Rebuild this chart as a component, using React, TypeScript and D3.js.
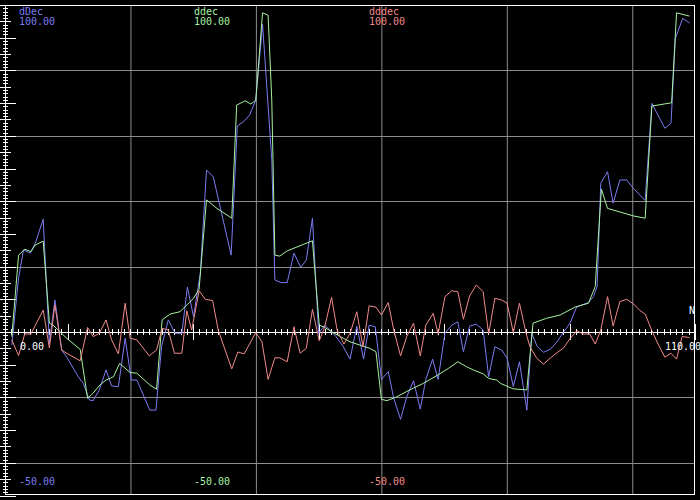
import React from 'react';
import * as d3 from 'd3';

// series names and the range labels printed for each of them
const seriesNames = ['dDec', 'ddec', 'dddec'];
const seriesColors = ['#7c7cf2', '#a6f2a0', '#f28a8a'];
const topLabels = ['100.00', '100.00', '100.00'];
const bottomLabels = ['-50.00', '-50.00', '-50.00'];
const xLabels = ['0.00', '110.00'];

// [x, value]
const dDec: [number, number][] = [
  [0, -4.0], [1.1, 16.5], [1.9, 25.1], [3.0, 24.1], [3.8, 27.1], [5.1, 34.5], [6.1, -3.5], [7.0, 9.8],
  [8.1, -5.5], [8.9, -7.6], [10.8, -13.7], [11.6, -15.7], [12.6, -20.8], [13.2, -21.0], [14.2, -17.7],
  [15.3, -11.6], [16.2, -16.5], [17.3, -16.7], [18.4, -1.9], [19.4, -14.7], [20.3, -14.7], [22.4, -23.9],
  [23.4, -23.9], [24.3, -4.5], [25.4, 3.7], [26.5, -0.4], [27.6, -0.4], [28.5, 13.7], [29.5, 4.7],
  [30.6, 18.0], [31.6, 49.5], [32.7, 47.5], [35.6, 23.5], [36.6, 63.0], [37.6, 64.3], [38.6, 66.3],
  [39.6, 70.9], [40.7, 94.1], [42.2, 52.6], [42.7, 15.9], [43.7, 15.1], [44.7, 15.1], [45.8, 24.1],
  [46.9, 19.8], [47.8, 22.0], [48.8, 34.8], [49.8, -0.4], [50.8, 2.1], [51.9, 0.1], [52.6, -1.4],
  [53.8, -4.5], [54.9, -8.3], [56.0, 1.8], [57.1, -8.3], [58.0, 2.1], [59.0, 1.6], [60.0, -14.5],
  [61.1, -12.1], [62.0, -20.3], [63.1, -26.7], [64.1, -19.8], [65.2, -14.9], [66.3, -23.6], [67.2, -14.5],
  [68.3, -8.3], [69.2, -14.5], [70.3, -0.4], [71.4, 2.1], [72.4, 3.1], [73.3, -6.0], [74.3, 1.8],
  [75.4, 2.4], [76.5, 0.6], [77.4, -13.7], [78.4, -4.5], [79.5, -5.5], [80.4, -8.0], [81.4, -16.7],
  [82.4, -9.1], [83.6, -23.9], [84.4, -0.4], [85.3, -4.5], [86.3, -6.2], [87.4, -5.3], [88.5, -3.0],
  [89.5, -0.2], [90.6, 2.7], [91.7, 7.7], [93.6, 9.0], [94.4, 10.8], [95.0, 13.9], [95.6, 45.5],
  [96.7, 49.0], [97.6, 39.4], [98.7, 46.5], [99.8, 46.5], [100.9, 43.9], [102.8, 40.2], [103.9, 69.9],
  [106.0, 62.3], [107.0, 63.8], [107.7, 89.8], [108.9, 95.9], [110, 94.5],
];

const ddec: [number, number][] = [
  [0, -1.4], [1.1, 23.5], [2.1, 25.3], [3.1, 24.6], [3.8, 26.6], [5.1, 27.8], [6.1, 2.7], [6.7, 2.1],
  [8.9, -1.9], [11.1, -5.3], [12.3, -20.3], [13.2, -18.7], [14.3, -16.2], [15.3, -14.7], [16.5, -13.7],
  [17.5, -9.6], [19.2, -12.4], [20.3, -12.6], [22.4, -16.2], [23.5, -17.5], [24.4, 3.7], [25.7, 5.5],
  [27.3, 6.2], [29.5, 10.3], [30.4, 13.1], [31.6, 40.4], [33.3, 37.8], [35.7, 34.8], [36.5, 69.4],
  [37.9, 70.7], [38.8, 69.7], [39.6, 70.9], [40.7, 97.6], [41.6, 96.9], [42.2, 70.9], [42.7, 23.5],
  [43.5, 23.2], [44.7, 24.8], [48.8, 27.9], [49.9, 2.1], [50.8, 1.4], [51.9, 0.1], [53.3, -1.4],
  [54.9, -3.0], [56.5, -4.0], [58.1, -5.0], [59.1, -6.0], [60.0, -20.6], [60.9, -21.0], [62.5, -19.8],
  [64.6, -17.7], [66.8, -15.7], [69.2, -13.1], [70.9, -11.1], [72.4, -9.1], [73.8, -10.6], [74.9, -11.6],
  [76.5, -12.8], [77.4, -14.2], [78.7, -14.7], [79.3, -15.7], [81.4, -17.4], [83.6, -17.7], [84.6, 2.7],
  [86.8, 4.2], [89.0, 5.2], [91.4, 7.6], [93.6, 8.8], [94.7, 13.9], [95.7, 43.7], [96.7, 37.8],
  [100.9, 35.5], [102.8, 34.8], [103.9, 69.1], [107.1, 70.1], [107.9, 97.6], [110, 96.6],
];

const dddec: [number, number][] = [
  [0, -2.4], [1.1, -7.2], [2.1, -0.6], [3.1, -0.6], [5.1, 6.7], [6.1, -4.9], [7.0, 8.3], [8.1, -5.5],
  [8.9, -6.5], [11.1, -8.8], [12.3, 1.4], [13.2, -1.4], [14.2, -0.4], [15.3, 3.7], [16.2, -2.4],
  [17.3, -6.7], [18.4, 8.8], [19.2, -1.9], [20.3, -2.4], [22.3, -7.3], [23.5, -5.5], [24.4, 1.1],
  [25.4, 0.6], [26.4, -6.5], [27.6, -6.5], [28.4, 6.5], [29.2, 0.6], [30.4, 12.6], [31.4, 10.0],
  [32.6, 9.6], [33.5, 0.6], [35.7, -11.3], [36.7, -6.1], [37.7, -6.7], [39.6, -0.2], [40.6, -3.0],
  [41.6, -14.5], [42.7, -7.9], [43.5, -7.9], [44.7, -9.1], [45.8, 1.6], [46.8, -6.5], [47.8, -5.0],
  [48.8, 6.9], [49.9, -2.7], [50.8, 1.6], [51.9, 10.6], [52.8, 0.6], [53.9, -3.7], [54.9, -0.4],
  [56.0, 6.2], [57.0, -4.5], [58.0, 8.0], [59.1, 7.6], [60.0, 5.2], [61.1, 9.0], [62.0, 0.6],
  [63.1, -7.3], [64.1, -1.4], [65.2, 2.7], [66.3, -7.3], [67.2, 2.1], [68.4, 5.7], [69.2, -0.6],
  [70.3, 10.8], [71.4, 12.6], [72.4, 12.3], [73.3, 3.9], [74.3, 11.0], [75.4, 14.4], [76.5, 12.3],
  [77.4, -0.6], [78.4, 10.3], [79.5, 9.8], [80.4, 8.8], [81.4, -0.2], [82.4, 8.8], [83.5, -0.6],
  [84.1, -4.5], [85.2, -8.0], [86.3, -9.8], [87.4, -8.0], [88.5, -6.3], [89.5, -5.0], [90.6, -2.1],
  [91.7, 0.4], [92.7, -0.6], [93.8, -0.6], [94.7, -3.7], [95.6, 0.6], [96.7, 10.8], [97.6, 1.8],
  [98.7, 9.3], [99.8, 10.0], [100.9, 8.6], [102.0, 6.5], [102.8, 5.5], [103.9, 0.4], [104.9, -3.7],
  [106.0, -7.7], [107.0, -6.5], [107.9, -8.3], [108.8, -1.4], [110, -1.7],
];

const series = [dDec, ddec, dddec];

const W = 700;
const H = 500;
const font = '"DejaVu Sans Mono", monospace';

export default function App() {
  const x = d3.scaleLinear().domain([0, 110]).range([11.8, 689.5]);
  const y = d3.scaleLinear().domain([-50, 100]).range([495.5, 5]);
  // grid columns are not tied to the data units
  const gx = d3.scaleLinear().domain([0, 5.5]).range([5, 695]);

  const line = d3.line<[number, number]>()
    .x(d => x(d[0]))
    .y(d => y(d[1]));

  const yGrid = [-40, -20, 20, 40, 60, 80];
  const xGrid = d3.range(1, 6);
  const yTicks = d3.range(-50, 101);
  const xTicks = d3.range(1, 111);

  return (
    <svg width={W} height={H} style={{ position: 'fixed', left: 0, top: 0, background: '#000' }}>
      <rect x={0} y={0} width={W} height={H} fill="#000" />

      {/* grid */}
      {xGrid.map(g => (
        <line key={'gx' + g} x1={gx(g) + 0.5} x2={gx(g) + 0.5} y1={5} y2={495} stroke="#8c8c8c" />
      ))}
      {yGrid.map(g => (
        <line key={'gy' + g} x1={5} x2={695} y1={Math.round(y(g)) + 0.5} y2={Math.round(y(g)) + 0.5} stroke="#8c8c8c" />
      ))}

      {/* frame */}
      <rect x={5.5} y={5.5} width={689} height={489} fill="none" stroke="#fff" />

      {/* left ticks */}
      {yTicks.map(v => {
        const len = v % 10 === 0 ? [0, 16] : v % 5 === 0 ? [0, 11] : [3, 8];
        const yy = Math.round(y(v)) + 0.5;
        return <line key={'yt' + v} x1={len[0]} x2={len[1]} y1={yy} y2={yy} stroke="#fff" />;
      })}

      {/* x axis */}
      <line x1={gx(0.05)} x2={695} y1={Math.round(y(0)) + 0.5} y2={Math.round(y(0)) + 0.5} stroke="#fff" />
      {xTicks.map(k => {
        const big = k % 20 === 10;
        const xx = Math.round(gx(k * 0.05)) + 0.5;
        const y0 = Math.round(y(0));
        return (
          <line key={'xt' + k} x1={xx} x2={xx} y1={big ? y0 - 8 : y0 - 3} y2={big ? y0 + 8 : y0 + 3} stroke="#fff" />
        );
      })}

      {/* data */}
      {series.map((s, i) => (
        <path key={seriesNames[i]} d={line(s) ?? ''} fill="none" stroke={seriesColors[i]} strokeWidth={1} />
      ))}

      {/* labels */}
      <g fontFamily={font} fontSize={10}>
        {seriesNames.map((n, i) => (
          <g key={'lab' + n} fill={seriesColors[i]}>
            <text x={19} y={15}>{''}</text>
            <text x={19 + i * 175} y={15}>{n}</text>
            <text x={19 + i * 175} y={25}>{topLabels[i]}</text>
            <text x={19 + i * 175} y={485}>{bottomLabels[i]}</text>
          </g>
        ))}
        <text x={20} y={350} fill="#fff">{xLabels[0]}</text>
        <text x={665} y={350} fill="#fff">{xLabels[1]}</text>
        <text x={689} y={314} fill="#fff">N</text>
      </g>
    </svg>
  );
}
